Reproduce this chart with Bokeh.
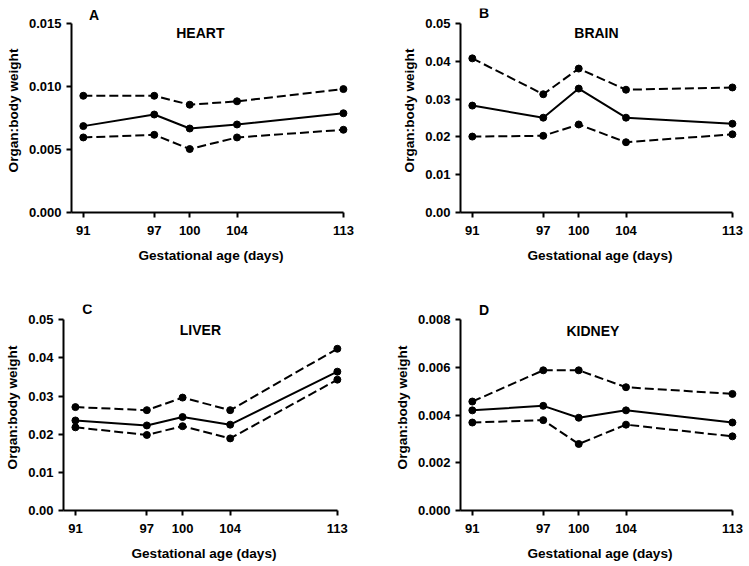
from bokeh.plotting import figure
from bokeh.models import Range1d, FixedTicker, NumeralTickFormatter, Label
from bokeh.layouts import column, row
from bokeh.embed import file_html
from bokeh.resources import INLINE

# ---- data ----
days = [91, 97, 100, 104, 113]

heart_mean = [0.00686, 0.00778, 0.00667, 0.00699, 0.00788]
heart_upper = [0.00927, 0.00927, 0.00856, 0.00883, 0.00980]
heart_lower = [0.00596, 0.00617, 0.00504, 0.00596, 0.00657]

brain_mean = [0.0283, 0.0251, 0.0328, 0.0251, 0.0235]
brain_upper = [0.0408, 0.0313, 0.0381, 0.0325, 0.0331]
brain_lower = [0.0201, 0.0203, 0.0233, 0.0186, 0.0207]

liver_mean = [0.0236, 0.0223, 0.0245, 0.0225, 0.0364]
liver_upper = [0.0271, 0.0263, 0.0296, 0.0263, 0.0424]
liver_lower = [0.0218, 0.0198, 0.0221, 0.0189, 0.0343]

kidney_mean = [0.00420, 0.00439, 0.00389, 0.00420, 0.00369]
kidney_upper = [0.00457, 0.00588, 0.00588, 0.00517, 0.00489]
kidney_lower = [0.00369, 0.00379, 0.00279, 0.00360, 0.00311]

FONT = "'Liberation Sans Narrow', 'Liberation Sans', Arial, sans-serif"
FONT2 = "'Liberation Sans', Arial, sans-serif"
HEAD = 1.08  # headroom above the top tick for the panel letter


def panel(mean, upper, lower, organ, letter, ymax, ystep, fmt,
          width, height, bl, br, bt, bb, title_pos, letter_pos):
    p = figure(width=width, height=height, output_backend="svg",
               toolbar_location=None,
               x_range=Range1d(90, 113.6), y_range=Range1d(0, ymax * HEAD),
               min_border_left=bl, min_border_right=br,
               min_border_top=bt, min_border_bottom=bb)
    p.outline_line_color = None
    p.grid.visible = False
    p.background_fill_color = "white"
    p.border_fill_color = "white"

    for ax in (p.xaxis[0], p.yaxis[0]):
        ax.axis_line_width = 2
        ax.major_tick_line_width = 2
        ax.major_tick_out = 5
        ax.major_tick_in = 0
        ax.minor_tick_line_color = None
        ax.major_label_text_font = FONT
        ax.major_label_text_font_style = "bold"
        ax.major_label_text_font_size = "13px"
        ax.major_label_text_color = "black"
        ax.axis_label_text_font = FONT2
        ax.axis_label_text_font_style = "bold"
        ax.axis_label_text_font_size = "13.6px"
        ax.axis_label_text_color = "black"

    p.xaxis.ticker = FixedTicker(ticks=days)
    p.xaxis.bounds = (90, 113)
    p.xaxis.axis_label = "Gestational age (days)"
    p.xaxis.major_label_standoff = 8
    p.xaxis.axis_label_standoff = 10

    nt = int(round(ymax / ystep))
    p.yaxis.ticker = FixedTicker(ticks=[i * ystep for i in range(nt + 1)])
    p.yaxis.bounds = (0, ymax)
    p.yaxis.formatter = NumeralTickFormatter(format=fmt)
    p.yaxis.axis_label = "Organ:body weight"
    p.yaxis.axis_label_standoff = 5

    for ys, dash in ((upper, "9 4"), (lower, "9 4"), (mean, "solid")):
        p.line(days, ys, line_color="black", line_width=2, line_dash=dash)
        p.scatter(days, ys, size=7, fill_color="black", line_color="black")

    p.add_layout(Label(x=title_pos[0], y=title_pos[1], text=organ,
                       text_font=FONT2, text_font_style="bold",
                       text_font_size="14px", text_align="center",
                       text_baseline="middle", text_color="black"))
    p.add_layout(Label(x=letter_pos[0], y=letter_pos[1], text=letter,
                       text_font=FONT2, text_font_style="bold",
                       text_font_size="14px", text_align="center",
                       text_baseline="middle", text_color="black"))
    return p


pa = panel(heart_mean, heart_upper, heart_lower, "HEART", "A", 0.015, 0.005,
           "0.000", 374, 283, 71, 24, 6, 71, (100.9, 0.01425), (91.9, 0.0157))
pb = panel(brain_mean, brain_upper, brain_lower, "BRAIN", "B", 0.05, 0.01,
           "0.00", 375, 283, 86, 10, 8, 71, (101.5, 0.0476), (92.0, 0.0527))
pc = panel(liver_mean, liver_upper, liver_lower, "LIVER", "C", 0.05, 0.01,
           "0.00", 374, 283, 63, 30, 21, 56, (101.5, 0.0473), (92.0, 0.0527))
pd = panel(kidney_mean, kidney_upper, kidney_lower, "KIDNEY", "D", 0.008, 0.002,
           "0.000", 375, 283, 86, 10, 21, 56, (101.2, 0.00754), (92.0, 0.00842))

layout = column(row(pa, pb), row(pc, pd))
open("out.html", "w").write(file_html(layout, INLINE))
